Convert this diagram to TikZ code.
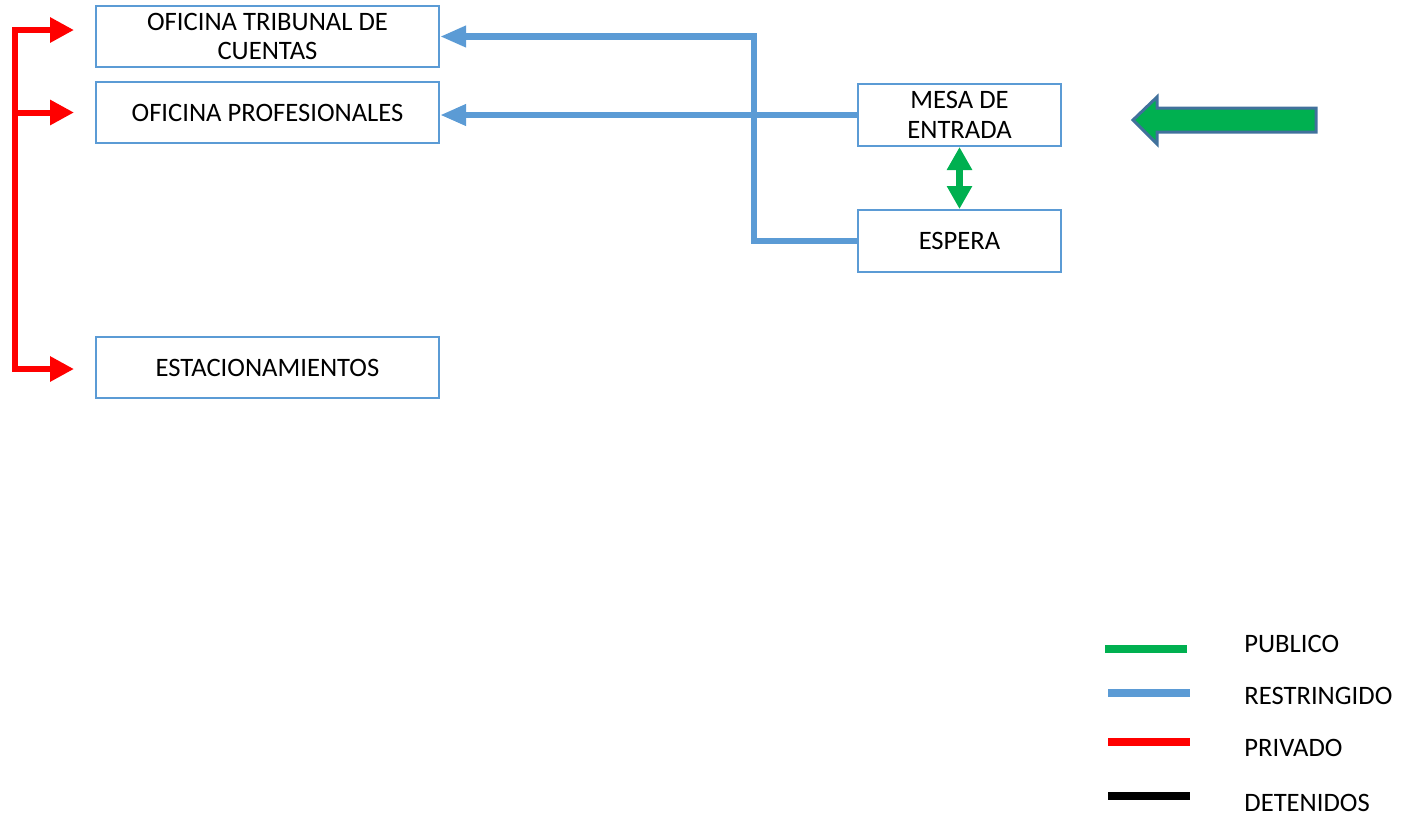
\documentclass[tikz,border=0pt]{standalone}
\usepackage{fontspec}
\setmainfont{Carlito}
\usetikzlibrary{arrows.meta}
\definecolor{azul}{HTML}{5B9BD5}
\definecolor{verde}{HTML}{00B050}
\definecolor{rojo}{HTML}{FF0000}
\definecolor{contorno}{HTML}{41719C}
\tikzstyle{salabox}=[draw=azul, line width=1pt, fill=white, align=center,
  minimum width=171.5pt, minimum height=30.5pt, inner sep=1pt,
  font=\fontsize{13.3}{14.8}\selectfont]
\tikzstyle{mesabox} = [salabox, minimum width=101.5pt, minimum height=31pt]
\tikzstyle{restringido} = [draw=azul, line width=3.3pt,
  >={Triangle[length=13pt,width=10pt]}, ->]
\tikzstyle{privado} = [draw=rojo, line width=3pt,
  >={Triangle[length=12pt,width=12pt]}, shorten >=10.5pt]
\tikzstyle{publico} = [draw=verde, line width=3.5pt,
  >={Triangle[length=11.5pt,width=12pt]}, <->]
\tikzstyle{muestra} = [line width=4pt]
\tikzstyle{leyenda} = [anchor=west, inner sep=0pt, font=\fontsize{13.3}{15}\selectfont]
\newcommand{\sala}[3]{node (#1) [#2] {#3}}

\begin{document}
\begin{tikzpicture}[x=0.5pt, y=-0.5pt]
\useasboundingbox (0,0) rectangle (1408,816);
% Draw rooms
\path (267.5,36.5)           \sala{tribunal}{salabox}{OFICINA TRIBUNAL DE\\CUENTAS};
\path (tribunal) +(0,76)     \sala{profes}{salabox}{OFICINA PROFESIONALES};
\path (tribunal) +(0,331)    \sala{estac}{salabox}{ESTACIONAMIENTOS};
\path (profes) +(692,2.5)    \sala{mesa}{mesabox}{MESA DE\\ENTRADA};
\path (mesa) +(0,126)        \sala{espera}{mesabox}{ESPERA};

% Draw connectors
\coordinate (busN) at (15,30);
\coordinate (busS) at (15,369);
\coordinate (codo) at (754,241);
\draw [privado,<->,shorten <=10.5pt] (busN -| tribunal.west) -- (busN) -- (busS)
  -- (busS -| estac.west);
\draw [privado,->] (busN |- profes.west) -- (profes.west);
\draw [restringido] (mesa.west) -- (mesa.west -| profes.east);
\draw [restringido] (espera.west) -- (codo) |- (tribunal.east);
\draw [publico] (mesa.south) -- (espera.north);

% Entrance arrow
\filldraw [fill=verde, draw=contorno, line width=1.5pt, line join=miter]
  (1133,120) -- (1157,97) -- (1157,108) -- (1316,108) -- (1316,132)
  -- (1157,132) -- (1157,144) -- cycle;

% Legend
\draw [muestra, verde] (1105,649) -- (1187,649);
\draw [muestra, azul]  (1108,693) -- (1190,693);
\draw [muestra, rojo]  (1108,742) -- (1190,742);
\draw [muestra, black] (1108,796) -- (1190,796);
\node [leyenda] (lpublico)     at (1244,644) {PUBLICO};
\node [leyenda] (lrestringido) at (1244,696) {RESTRINGIDO};
\node [leyenda] (lprivado)     at (1244,748) {PRIVADO};
\node [leyenda] (ldetenidos)   at (1244,803) {DETENIDOS};
\end{tikzpicture}
\end{document}
